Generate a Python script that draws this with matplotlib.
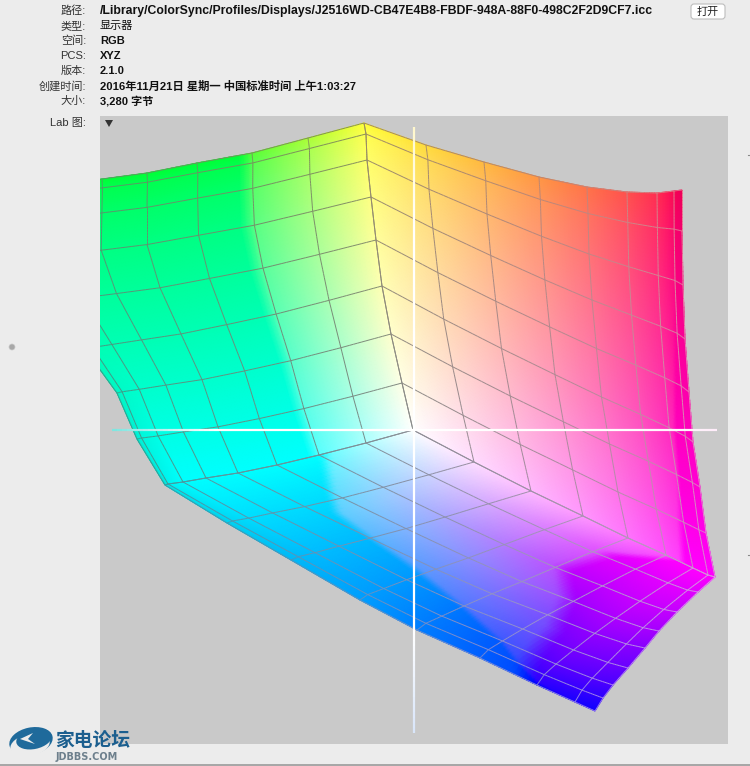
import numpy as np
import matplotlib
matplotlib.use('Agg')
import matplotlib.pyplot as plt
from matplotlib.colors import to_rgb
from matplotlib.patches import FancyBboxPatch, Polygon, Ellipse
from matplotlib.collections import LineCollection

plt.rcParams['font.family'] = ['Liberation Sans', 'Noto Sans CJK SC', 'DejaVu Sans']

# info rows at the top of the window
info_labels = ['路径:', '类型:', '空间:', 'PCS:', '版本:', '创建时间:', '大小:']
info_values = ['/Library/ColorSync/Profiles/Displays/J2516WD-CB47E4B8-FBDF-948A-88F0-498C2F2D9CF7.icc',
               '显示器', 'RGB', 'XYZ', '2.1.0',
               '2016年11月21日 星期一 中国标准时间 上午1:03:27', '3,280 字节']

# edges of the gamut solid at the grid nodes (image pixels)
white_yellow_x = [413, 402, 391, 382, 376, 371, 367, 366, 364]
white_yellow_y = [430, 383, 334, 286, 240, 197, 160, 134, 123]
yellow_green_x = [364, 308, 252, 197, 147, 102, 68, 48, 40]
yellow_green_y = [123, 138, 153, 163, 173, 179, 183, 186, 187]
white_cyan_x = [413, 366, 319, 277, 238, 206, 183, 168, 165]
white_cyan_y = [430, 443, 455, 465, 473, 478, 482, 484, 485]
cyan_green_x = [165, 137, 117, 85, 50, 30, 35, 38, 40]
cyan_green_y = [485, 439, 393, 349, 302, 258, 220, 195, 187]
yellow_red_x = [364, 426, 484, 539, 587, 627, 657, 674, 682]
yellow_red_y = [123, 145, 162, 177, 187, 192, 193, 191, 190]
magenta_red_x = [715, 706, 700, 693, 689, 685, 683, 682, 682]
magenta_red_y = [577, 533, 487, 442, 392, 339, 285, 231, 190]
white_magenta_x = [413, 474, 531, 583, 628, 666, 693, 708, 715]
white_magenta_y = [430, 462, 491, 516, 538, 555, 568, 575, 577]
cyan_blue_x = [165, 227, 291, 360, 417, 480, 537, 575, 595]
cyan_blue_y = [485, 523, 560, 600, 630, 658, 685, 702, 711]
magenta_blue_x = [715, 698, 677, 659, 645, 628, 613, 603, 595]
magenta_blue_y = [577, 592, 612, 631, 648, 668, 685, 698, 711]

# where the display colour clips on the blue face, in grid units
clip_r_v = [0, 1.3, 2.8, 4, 5, 6, 8]
clip_r_u = [2, 3.8, 4.5, 5.2, 6.2, 8, 8.5]
clip_g_u = [0, 0.8, 1.9, 3, 4.5, 8]
clip_g_v = [5.5, 4.5, 4.3, 5.1, 5.6, 6]

bg = '#ececec'
panel = '#c9c9c9'


def coons(a, c, d, b, U, V):
    # a: v=0, c: v=8, d: u=0, b: u=8, each a pair of lists
    out = []
    for k in range(2):
        A = np.interp(U, np.arange(9), a[k])
        C = np.interp(U, np.arange(9), c[k])
        D = np.interp(V, np.arange(9), d[k])
        B = np.interp(V, np.arange(9), b[k])
        u, v = U / 8, V / 8
        bil = ((1-u)*(1-v)*a[k][0] + u*(1-v)*a[k][8]
               + (1-u)*v*c[k][0] + u*v*c[k][8])
        out.append((1-v)*A + v*C + (1-u)*D + u*B - bil)
    return out


def corner(U, V):
    return np.clip((U-6)/2, 0, 1)*np.clip(1-V/3, 0, 1)


def green_face(U, V):
    r = np.clip(1 - 0.65*U/2, 0, 1)*np.clip((2.25-U)/0.25, 0, 1)
    g = 1 - 0.1*corner(U, V)
    b = (1 - 0.78*V/8)*(1 - 0.12*corner(U, V))
    return np.dstack([r, g, b])


def red_face(U, V):
    r = 1 - 0.07*np.clip((U-6.5)/1.5, 0, 1)*np.clip((V-3)/5, 0, 1)
    g = np.clip(1 - U/7.33, 0, 1)*np.clip((5.75-U)/0.25 + V, 0, 1)
    b = 1 - (0.78 - 0.13*U/8)*V/8
    return np.dstack([r, g, b])


def blue_face(U, V):
    ub = np.interp(V, clip_r_v, clip_r_u)
    edge_r = np.interp(V, [0, 4, 8], [0.35, 0.3, 0])
    r = np.clip(1 - (1-edge_r)*U/ub, 0, 1)*np.clip((ub-U)/0.25, 0, 1)
    vb = np.interp(U, clip_g_u, clip_g_v)
    g = np.clip(1 - 0.75*V/vb, 0, 1)*np.clip((vb-V)/0.4, 0, 1)
    g = g*(1 - 0.1*corner(U, V))
    b = 1 - 0.1*corner(U, V)
    return np.dstack([r, g, b])


fig = plt.figure(figsize=(7.5, 7.66), dpi=100, facecolor=bg)

# full window axes, in image pixels
win = fig.add_axes([0, 0, 1, 1])
win.set_xlim(0, 750)
win.set_ylim(766, 0)
win.axis('off')

for i, (lab, val) in enumerate(zip(info_labels, info_values)):
    y = 11 + 15*i
    win.text(86, y, lab, ha='right', va='center', fontsize=8, color='#333333')
    win.text(100, y, val, ha='left', va='center', color='#111111',
             fontsize=8.85 if i == 0 else (8.15 if i == 5 else 8),
             fontweight='normal' if i == 1 else 'bold')
win.text(86, 123, 'Lab 图:', ha='right', va='center', fontsize=8, color='#333333')

win.add_patch(FancyBboxPatch((691, 4), 34, 15, boxstyle='round,pad=0,rounding_size=3',
                             fc='white', ec='#bdbdbd', lw=0.8))
win.text(708, 11.5, '打开', ha='center', va='center', fontsize=8, color='#222222')
win.add_patch(Ellipse((12, 347), 6, 6, fc='#a8a8a8', ec='#c8c8c8', lw=0.5))
win.plot([0, 750], [765, 765], color='#9a9a9a', lw=1.2)
win.plot([748, 750], [155, 155], color='#8a8a8a', lw=0.8)
win.plot([748, 750], [555, 555], color='#8a8a8a', lw=0.8)

# the Lab plot
ax = fig.add_axes([100/750, (766-744)/766, 628/750, 628/766], facecolor=panel)
ax.set_xlim(100, 728)
ax.set_ylim(744, 116)
ax.set_xticks([])
ax.set_yticks([])
for sp in ax.spines.values():
    sp.set_visible(False)

wy = (white_yellow_x, white_yellow_y)
yg = (yellow_green_x, yellow_green_y)
wc = (white_cyan_x, white_cyan_y)
cg = (cyan_green_x, cyan_green_y)
yr = (yellow_red_x, yellow_red_y)
mr = (magenta_red_x, magenta_red_y)
wm = (white_magenta_x, white_magenta_y)
cb = (cyan_blue_x, cyan_blue_y)
mb = (magenta_blue_x, magenta_blue_y)

# grid colour at the face corners: (0,0), (8,0), (0,8), (8,8)
faces = [(wc, yg, wy, cg, green_face, ['#808888', '#3a9a90', '#8a9050', '#3f9a70']),
         (wm, yr, wy, mr, red_face, ['#8a8a8a', '#dc90d8', '#a08a60', '#e88090']),
         (wc, mb, wm, cb, blue_face, ['#8c8c96', '#3a9aa5', '#e0a0e8', '#a080f0'])]

s = np.linspace(0, 8, 97)
for a, c, d, b, colour, corners in faces:
    U, V = np.meshgrid(s, s)
    X, Y = coons(a, c, d, b, U, V)
    ax.pcolormesh(X, Y, colour(U, V), shading='gouraud')
    c00, c10, c01, c11 = [np.array(to_rgb(k)) for k in corners]
    for n in range(9):
        for uu, vv in ((np.full_like(s, n), s), (s, np.full_like(s, n))):
            x, y = coons(a, c, d, b, uu, vv)
            pts = np.column_stack([x, y])
            segs = np.stack([pts[:-1], pts[1:]], axis=1)
            p, q = (uu[:-1]/8)[:, None], (vv[:-1]/8)[:, None]
            cols = (1-p)*(1-q)*c00 + p*(1-q)*c10 + (1-p)*q*c01 + p*q*c11
            ax.add_collection(LineCollection(segs, colors=cols, linewidths=0.7))


def ramp(x0, y0, x1, y1, c0, c1):
    t = np.linspace(0, 1, 60)
    xs, ys = x0 + (x1-x0)*t, y0 + (y1-y0)*t
    pts = np.column_stack([xs, ys])
    segs = np.stack([pts[:-1], pts[1:]], axis=1)
    w = np.clip(t[:-1]*3, 0, 1)[:, None]
    cols = np.array(c0)*(1-w) + np.array(c1)*w
    ax.add_collection(LineCollection(segs, colors=cols, linewidths=1.6))


# cross hair
ramp(112, 430, 413, 430, (0.5, 0.9, 0.88), (1, 1, 1))
ramp(717, 430, 413, 430, (1, 0.93, 0.98), (1, 1, 1))
ramp(414, 127, 414, 430, (1, 0.97, 0.8), (1, 1, 1))
ramp(414, 733, 414, 430, (0.85, 0.9, 0.98), (1, 1, 1))

ax.add_patch(Polygon([(105, 120), (113, 120), (109, 127)], fc='#333333', ec='none'))

# watermark over everything
top = fig.add_axes([0, 0, 1, 1], facecolor='none')
top.set_xlim(0, 750)
top.set_ylim(766, 0)
top.axis('off')
top.add_patch(Ellipse((31, 741), 44, 27, angle=-12, fc='#1f6a9b', ec='none'))
top.add_patch(Ellipse((30, 745), 40, 22, angle=-12, fc='#ececec', ec='none'))
top.add_patch(Ellipse((34, 739), 36, 20, angle=-12, fc='#1f6a9b', ec='none'))
top.add_patch(Polygon([(20, 739), (33, 733), (28, 739), (35, 744)], fc='#ececec', ec='none'))
top.text(55, 740, '家电论坛', ha='left', va='center', fontsize=13.5, fontweight='bold',
         color='#1c5f8f', family=['Noto Sans CJK SC'])
top.text(56, 757, 'JDBBS.COM', ha='left', va='center', fontsize=7, fontweight='bold',
         color='#6d7f8c', family=['DejaVu Sans'])

fig.savefig('out.png', dpi=100, facecolor=bg)
